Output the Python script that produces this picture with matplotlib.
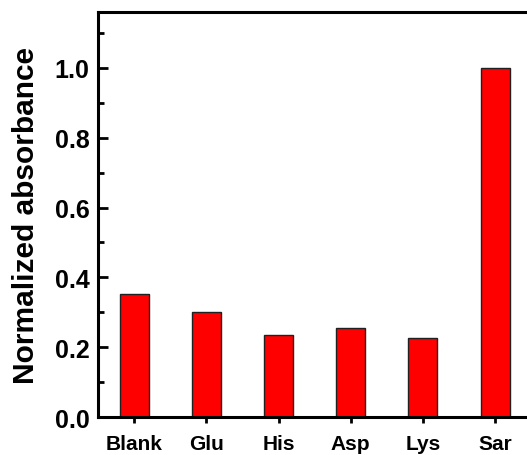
import matplotlib
matplotlib.use("Agg")
import matplotlib.pyplot as plt
from matplotlib.ticker import MultipleLocator

# samples and their normalized absorbance
samples = ["Blank", "Glu", "His", "Asp", "Lys", "Sar"]
absorbance = [0.353, 0.300, 0.235, 0.255, 0.227, 1.000]

plt.rcParams['font.family'] = ['Liberation Sans', 'DejaVu Sans']
plt.rcParams['font.weight'] = 'bold'

fig = plt.figure(figsize=(5.27, 4.56), dpi=100)
# right edge of the frame runs past the figure border
ax = fig.add_axes([0.186, 0.0833, 0.822, 0.888])

x = list(range(len(samples)))
ax.bar(x, absorbance, width=0.4, color='#ff0000', edgecolor='#202020', linewidth=1.0)

ax.set_xlim(-0.5, 5.5)
ax.set_ylim(0, 1.16)
ax.set_xticks(x)
ax.set_xticklabels(samples, fontsize=15, fontweight='bold')
ax.yaxis.set_major_locator(MultipleLocator(0.2))
ax.yaxis.set_minor_locator(MultipleLocator(0.1))
ax.set_yticklabels([f"{v:.1f}" for v in ax.get_yticks()], fontsize=18, fontweight='bold')

ax.tick_params(axis='y', which='major', direction='in', length=7, width=2, pad=6)
ax.tick_params(axis='y', which='minor', direction='in', length=4, width=2)
ax.tick_params(axis='x', which='major', direction='out', length=4, width=2, pad=8.5)
ax.tick_params(right=False, top=False)

for s in ax.spines.values():
    s.set_linewidth(2.2)

ax.set_ylabel("Normalized absorbance", fontsize=21.5, fontweight='bold', labelpad=11)

fig.savefig("out.png", dpi=100)
